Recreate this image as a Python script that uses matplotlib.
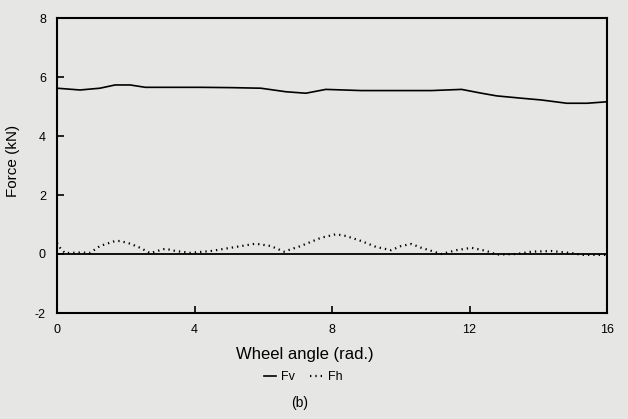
import matplotlib
matplotlib.use("Agg")
import matplotlib.pyplot as plt
from matplotlib.lines import Line2D

plt.rcParams['font.family'] = ['Liberation Sans', 'DejaVu Sans']

# Fuerza vertical (Fv)
angulo_fv = [0, 0.67, 1.25, 1.69, 2.13, 2.57, 4.18, 5.05, 5.93, 6.66, 7.24, 7.82,
             8.85, 10.0, 10.89, 11.77, 12.35, 12.79, 13.52, 14.1, 14.83, 15.42, 16.0]
fv = [5.62, 5.56, 5.62, 5.73, 5.73, 5.65, 5.65, 5.64, 5.62, 5.5, 5.45, 5.58,
      5.54, 5.54, 5.54, 5.58, 5.45, 5.36, 5.28, 5.22, 5.11, 5.11, 5.16]

# Fuerza horizontal (Fh)
angulo_fh = [0, 0.09, 0.23, 0.67, 0.96, 1.25, 1.69, 1.84, 2.13, 2.42, 2.71, 3.15,
             3.45, 3.88, 4.47, 5.05, 5.78, 6.22, 6.6, 7.09, 7.68, 8.12, 8.41, 8.85,
             9.28, 9.72, 10.01, 10.31, 10.6, 11.18, 11.62, 12.06, 12.5, 12.79,
             13.37, 13.81, 14.39, 14.98, 15.27, 16.0]
fh = [0.38, 0.21, 0.03, 0.05, 0.04, 0.27, 0.44, 0.44, 0.35, 0.21, 0.03, 0.18,
      0.1, 0.04, 0.1, 0.21, 0.35, 0.27, 0.08, 0.27, 0.55, 0.67, 0.61, 0.44,
      0.24, 0.13, 0.27, 0.34, 0.21, 0.0, 0.13, 0.21, 0.1, -0.02,
      0.0, 0.08, 0.1, 0.03, -0.03, -0.03]

xticks = [0, 4, 8, 12, 16]
yticks = [-2, 0, 2, 4, 6, 8]

fondo = '#e6e6e4'
punteado = (0, (0.6, 1.8))

fig = plt.figure(figsize=(6.28, 4.19), dpi=100, facecolor=fondo)
ax = fig.add_axes([57 / 628, 1 - 313 / 419, 550 / 628, 295 / 419])
ax.set_facecolor(fondo)

ax.axhline(0, color='black', lw=1.3)
ax.plot(angulo_fv, fv, color='black', lw=1.2)
ax.plot(angulo_fh, fh, color='black', lw=1.6, linestyle=punteado)

ax.set_xlim(0, 16)
ax.set_ylim(-2, 8)
ax.set_xticks(xticks)
ax.set_yticks(yticks)
ax.set_yticklabels(['-2', '0', '2', '4', '6', '8'])
ax.tick_params(axis='both', direction='in', length=5, width=1.2, labelsize=9)
ax.tick_params(axis='x', pad=8)
ax.tick_params(axis='y', pad=8)
for s in ax.spines.values():
    s.set_linewidth(1.5)

# la etiqueta x esta algo a la izquierda del centro, como el pie de figura
ax.set_xlabel('Wheel angle (rad.)', fontsize=12)
ax.xaxis.set_label_coords(0.451, -0.115)
ax.set_ylabel('Force (kN)', fontsize=11)
ax.yaxis.set_label_coords(-0.068, 0.515)

handles = [Line2D([], [], color='black', lw=1.2),
           Line2D([], [], color='black', lw=1.6, linestyle=punteado)]
fig.legend(handles, ['Fv', 'Fh'], loc='center', bbox_to_anchor=(303 / 628, 1 - 377 / 419),
           ncol=2, frameon=False, fontsize=9, handlelength=1.0, handletextpad=0.4,
           columnspacing=1.2)
fig.text(300 / 628, 1 - 403 / 419, '(b)', ha='center', va='center', fontsize=10)

fig.savefig('out.png', dpi=100, facecolor=fondo)
